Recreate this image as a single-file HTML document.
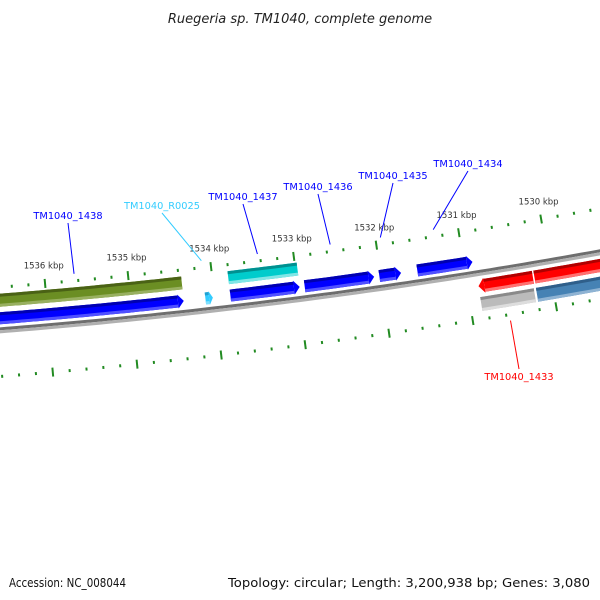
<!DOCTYPE html>
<html><head><meta charset="utf-8"><style>
html,body{margin:0;padding:0;background:#fff;width:600px;height:600px;overflow:hidden}
svg{display:block;font-family:"DejaVu Sans","Liberation Sans",sans-serif}
</style></head><body>
<svg id="map" width="600" height="600" viewBox="0 0 600 600">
<text x="300" y="23" text-anchor="middle" font-size="13" font-style="italic" fill="#222">Ruegeria sp. TM1040, complete genome</text>
<text x="9" y="587" font-size="12" textLength="117" lengthAdjust="spacingAndGlyphs" fill="#111">Accession: NC_008044</text>
<text x="228" y="587" font-size="12" textLength="362" lengthAdjust="spacingAndGlyphs" fill="#111">Topology: circular; Length: 3,200,938 bp; Genes: 3,080</text>
<g id="layer"></g>
</svg>
<script>
// data
var featStart = [1537600, 1534110, 1533810, 1532917, 1532018, 1531560, 1537600, 1533810, 1530869, 1530196, 1530869, 1530200];
var featEnd   = [1534369, 1534020, 1532976, 1532079, 1531755, 1530893, 1534369, 1532976, 1530214, 1528800, 1530226, 1528800];
var featTrack = ['fi','fi','fi','fi','fi','fi','fo','fo','ri','ri','ro','ro'];
var featColor = ['blue','tRNA','blue','blue','blue','blue','olive','teal','red','red','gray','steel'];
var featName  = ['gene-tm1040-1438','trna-tm1040-r0025','gene-tm1040-1437','gene-tm1040-1436','gene-tm1040-1435','gene-tm1040-1434','olive-feature-1438','teal-feature-1437','gene-tm1040-1433','red-gene-right','gray-feature-1433','steelblue-feature-right'];
var tickKbp = [1536, 1535, 1534, 1533, 1532, 1531, 1530];
var labelText = ['TM1040_1438','TM1040_R0025','TM1040_1437','TM1040_1436','TM1040_1435','TM1040_1434','TM1040_1433'];
var labelBp   = [1535643, 1534107, 1533429, 1532548, 1531940, 1531298, 1530560];
var labelColor= ['#0000ff','#33ccff','#0000ff','#0000ff','#0000ff','#0000ff','#ff0000'];
var labelPos  = [[68,219],[162,209],[243,200],[318,190],[393,179],[468,167],[519,380]];

var NS='http://www.w3.org/2000/svg';
var layer=document.getElementById('layer');
var Cx=-473, Cy=-5651, R=6000, phi0=Math.atan2(5982,473);
function sOf(bp){return 49+(1536000-bp)*0.084;}
function P(bp,d){var f=phi0-sOf(bp)/R;return [Cx+(R+d)*Math.cos(f),Cy+(R+d)*Math.sin(f)];}
function mk(tag,attrs){var e=document.createElementNS(NS,tag);for(var k in attrs)e.setAttribute(k,attrs[k]);layer.appendChild(e);return e;}
function band(b1,b2,d1,d2){
  var pts=[],n=Math.max(2,Math.ceil(Math.abs(b1-b2)/100));
  for(var i=0;i<=n;i++){var b=b1-(b1-b2)*i/n;pts.push(P(b,d1));}
  for(var i=n;i>=0;i--){var b=b1-(b1-b2)*i/n;pts.push(P(b,d2));}
  return pts.map(function(p){return p[0].toFixed(1)+','+p[1].toFixed(1);}).join(' ');
}
var trackD={fi:-12,fo:-30,ri:13,ro:31};
var trackH={fi:12,fo:13,ri:13,ro:14};
var pal={blue:['#0000b0','#0000ff','#5050ff'],tRNA:['#20a0d0','#33ccff','#80e0ff'],olive:['#4a6215','#6b8e23','#98b060'],
 teal:['#009090','#00cccc','#80e6e6'],red:['#b00000','#ff0000','#ff7070'],gray:['#8a8a8a','#bbbbbb','#dddddd'],steel:['#2f5f8a','#4682b4','#8fb3d3']};

// backbone
var bb1=mk('polygon',{points:band(1537800,1528600,-3,0),fill:'#6e6e6e'});


var bb2=mk('polygon',{points:band(1537800,1528600,0,3),fill:'#b0b0b0'});



// ticks
for(var bp=1537400;bp>=1528800;bp-=200){
  var major=(bp%1000===0);
  [-43,46].forEach(function(dc){
    var L=major?4.5:1.5;
    var a=P(bp,dc-L),b=P(bp,dc+L);
    var t=mk('line',{x1:a[0],y1:a[1],x2:b[0],y2:b[1],stroke:'#228b22','stroke-width':2});
    
    
  });
}
tickKbp.forEach(function(k){
  var p=P(k*1000,-58);
  var t=mk('text',{x:p[0],y:p[1],'text-anchor':'middle','font-size':8.5,fill:'#333'});
  t.textContent=k+' kbp';
  
  
});

// features
function drawFeatures(){
  for(var i=0;i<featStart.length;i++){
    var dd=trackD[featTrack[i]],hh=trackH[featTrack[i]],c=pal[featColor[i]];
    var b1=featStart[i],b2=featEnd[i];
    var arrowFwd=(featTrack[i]==='fi'), arrowRev=(i===8);
    var g=document.createElementNS(NS,'g');layer.appendChild(g);
    
    
    var tip=70, body1=b1, body2=b2;
    if(arrowFwd){body2=Math.min(b2+tip,(b1+b2)/2);}
    if(arrowRev){body1=b1-tip;}
    var dTop=dd-hh/2,dBot=dd+hh/2;
    var e=document.createElementNS(NS,'polygon');e.setAttribute('points',band(body1,body2,dTop,dBot));e.setAttribute('fill',c[1]);g.appendChild(e);
    if(arrowFwd||arrowRev){
      var bb=arrowFwd?body2:body1, tb=arrowFwd?b2:b1;
      var q=[P(bb,dTop-1),P(tb,dd),P(bb,dBot+1)];
      var tr=document.createElementNS(NS,'polygon');
      tr.setAttribute('points',q.map(function(p){return p[0].toFixed(1)+','+p[1].toFixed(1);}).join(' '));
      tr.setAttribute('fill',c[1]);g.appendChild(tr);
    }
    var e2=document.createElementNS(NS,'polygon');e2.setAttribute('points',band(body1,body2,dTop,dTop+3));e2.setAttribute('fill',c[0]);g.appendChild(e2);
    var e3=document.createElementNS(NS,'polygon');e3.setAttribute('points',band(body1,body2,dBot-3,dBot));e3.setAttribute('fill',c[2]);g.appendChild(e3);
  }
}
drawFeatures();

// labels
for(var j=0;j<labelText.length;j++){
  var lp=labelPos[j], below=(labelColor[j]==='#ff0000');
  var a=P(labelBp[j], below?52:-50);
  var ln=mk('line',{x1:lp[0],y1:below?lp[1]-11:lp[1]+4,x2:a[0],y2:a[1],stroke:labelColor[j],'stroke-width':1});
  
  
  var t=mk('text',{x:lp[0],y:lp[1],'text-anchor':'middle','font-size':9.8,fill:labelColor[j]});
  t.textContent=labelText[j];
  
  
}
</script>
</body></html>
